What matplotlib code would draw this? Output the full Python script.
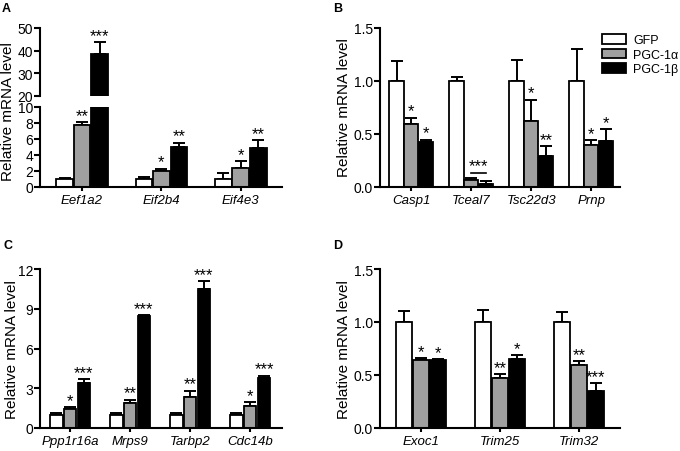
import matplotlib
matplotlib.use('Agg')
import matplotlib.pyplot as plt
import numpy as np

plt.rcParams['font.family'] = ['Liberation Sans', 'DejaVu Sans']

series = ['GFP', 'PGC-1\u03b1', 'PGC-1\u03b2']
colors = ['white', '#a0a0a0', 'black']

# panel A
genes_a = ['Eef1a2', 'Eif2b4', 'Eif4e3']
gfp_a = [1.0, 1.0, 1.0]
gfp_a_err = [0.12, 0.25, 0.7]
alpha_a = [7.8, 2.05, 2.4]
alpha_a_err = [0.3, 0.25, 0.85]
beta_a = [38.6, 5.0, 4.85]
beta_a_err = [5.2, 0.55, 1.05]
stars_alpha_a = ['**', '*', '*']
stars_beta_a = ['***', '**', '**']

# panel B
genes_b = ['Casp1', 'Tceal7', 'Tsc22d3', 'Prnp']
gfp_b = [1.0, 1.0, 1.0, 1.0]
gfp_b_err = [0.185, 0.04, 0.195, 0.30]
alpha_b = [0.59, 0.07, 0.62, 0.40]
alpha_b_err = [0.065, 0.012, 0.205, 0.04]
beta_b = [0.425, 0.03, 0.29, 0.43]
beta_b_err = [0.022, 0.027, 0.095, 0.115]
stars_alpha_b = ['*', '', '*', '*']
stars_beta_b = ['*', '', '**', '*']
bracket_b = 0.135  # Tceal7 line, *** for both

# panel C
genes_c = ['Ppp1r16a', 'Mrps9', 'Tarbp2', 'Cdc14b']
gfp_c = [1.0, 1.0, 1.0, 1.0]
gfp_c_err = [0.1, 0.1, 0.1, 0.1]
alpha_c = [1.43, 1.91, 2.34, 1.69]
alpha_c_err = [0.15, 0.23, 0.48, 0.25]
beta_c = [3.4, 8.43, 10.47, 3.8]
beta_c_err = [0.32, 0.07, 0.6, 0.15]
stars_alpha_c = ['*', '**', '**', '*']
stars_beta_c = ['***', '***', '***', '***']

# panel D
genes_d = ['Exoc1', 'Trim25', 'Trim32']
gfp_d = [1.0, 1.0, 1.0]
gfp_d_err = [0.1, 0.11, 0.09]
alpha_d = [0.64, 0.47, 0.59]
alpha_d_err = [0.017, 0.04, 0.04]
beta_d = [0.64, 0.65, 0.345]
beta_d_err = [0.01, 0.04, 0.075]
stars_alpha_d = ['*', '**', '**']
stars_beta_d = ['*', '*', '***']


def draw_bars(ax, vals, errs, stars, off, width):
    x = np.arange(len(vals[0]))
    bars = []
    for k in range(3):
        xs = x + (k - 1) * off
        b = ax.bar(xs, vals[k], width, color=colors[k], edgecolor='black',
                   linewidth=1.3, label=series[k], zorder=2)
        bars.append(b)
        ax.errorbar(xs, vals[k], yerr=[np.zeros(len(xs)), errs[k]], fmt='none',
                    ecolor='black', elinewidth=1.4, capsize=4.5, capthick=1.4, zorder=1)
        if stars[k] is None:
            continue
        for i in range(len(xs)):
            if stars[k][i]:
                ax.annotate(stars[k][i], (xs[i], vals[k][i] + errs[k][i]),
                            xytext=(0, 1.5), textcoords='offset points',
                            ha='center', va='baseline', fontsize=12,
                            annotation_clip=True)
    return bars


def style(ax, genes, yticks, fmt, bottom=True):
    for s in ['top', 'right']:
        ax.spines[s].set_visible(False)
    ax.spines['left'].set_linewidth(1.5)
    ax.spines['bottom'].set_linewidth(1.5)
    ax.set_yticks(yticks)
    ax.set_yticklabels([fmt.format(t) for t in yticks])
    ax.tick_params(axis='y', direction='out', length=4, width=1.5, labelsize=10, pad=1)
    if bottom:
        ax.set_xticks(np.arange(len(genes)))
        ax.set_xticklabels(genes, fontstyle='italic', fontsize=9.5)
        ax.tick_params(axis='x', direction='out', length=3, width=1.5, pad=2)
    else:
        ax.spines['bottom'].set_visible(False)
        ax.set_xticks([])


fig = plt.figure(figsize=(6.8, 4.52), dpi=100)
W, H = 680.0, 452.0


def axes_px(x0, y0, x1, y1):
    return fig.add_axes([x0 / W, 1 - y1 / H, (x1 - x0) / W, (y1 - y0) / H])


# A (broken axis)
a_top = axes_px(40, 29, 282, 97)
a_bot = axes_px(40, 108, 282, 188)
vals_a = [gfp_a, alpha_a, beta_a]
errs_a = [gfp_a_err, alpha_a_err, beta_a_err]
stars_a = [None, stars_alpha_a, stars_beta_a]
for ax in (a_top, a_bot):
    draw_bars(ax, vals_a, errs_a, stars_a, 0.22, 0.21)
    ax.set_xlim(-0.53, 2.52)
a_top.set_ylim(20, 50)
a_bot.set_ylim(0, 10)
style(a_top, genes_a, [20, 30, 40, 50], '{:d}', bottom=False)
style(a_bot, genes_a, [0, 2, 4, 6, 8, 10], '{:d}')

# B
ax_b = axes_px(380, 29, 620, 188)
bars_b = draw_bars(ax_b, [gfp_b, alpha_b, beta_b], [gfp_b_err, alpha_b_err, beta_b_err],
                   [None, stars_alpha_b, stars_beta_b], 0.245, 0.235)
ax_b.plot([1.0, 1.245], [bracket_b, bracket_b], color='black', lw=1.2)
ax_b.annotate('***', (1.12, bracket_b), xytext=(0, 1.5), textcoords='offset points',
              ha='center', va='baseline', fontsize=12)
ax_b.set_xlim(-0.52, 3.48)
ax_b.set_ylim(0, 1.5)
style(ax_b, genes_b, [0, 0.5, 1.0, 1.5], '{:.1f}')
fig.legend(handles=bars_b, labels=series, loc='upper left',
           bbox_to_anchor=(602 / W, 1 - 35 / H), frameon=False, fontsize=9,
           handlelength=1.9, handleheight=0.8, handletextpad=0.6,
           labelspacing=0.2, borderpad=0, borderaxespad=0)

# C
ax_c = axes_px(40, 270, 282, 429)
draw_bars(ax_c, [gfp_c, alpha_c, beta_c], [gfp_c_err, alpha_c_err, beta_c_err],
          [None, stars_alpha_c, stars_beta_c], 0.23, 0.21)
ax_c.set_xlim(-0.5, 3.53)
ax_c.set_ylim(0, 12)
style(ax_c, genes_c, [0, 3, 6, 9, 12], '{:d}')

# D
ax_d = axes_px(380, 270, 620, 429)
draw_bars(ax_d, [gfp_d, alpha_d, beta_d], [gfp_d_err, alpha_d_err, beta_d_err],
          [None, stars_alpha_d, stars_beta_d], 0.215, 0.2)
ax_d.set_xlim(-0.52, 2.52)
ax_d.set_ylim(0, 1.5)
style(ax_d, genes_d, [0, 0.5, 1.0, 1.5], '{:.1f}')

# labels
for (px, py) in [(8, 112), (344, 108), (12, 350), (344, 350)]:
    fig.text(px / W, 1 - py / H, 'Relative mRNA level', rotation=90,
             ha='center', va='center', fontsize=11)
for lab, px, py in [('A', 2, 3), ('B', 333, 3), ('C', 3, 240), ('D', 333, 240)]:
    fig.text(px / W, 1 - py / H, lab, fontsize=9, fontweight='bold', ha='left', va='top')

fig.savefig('out.png', dpi=100)
